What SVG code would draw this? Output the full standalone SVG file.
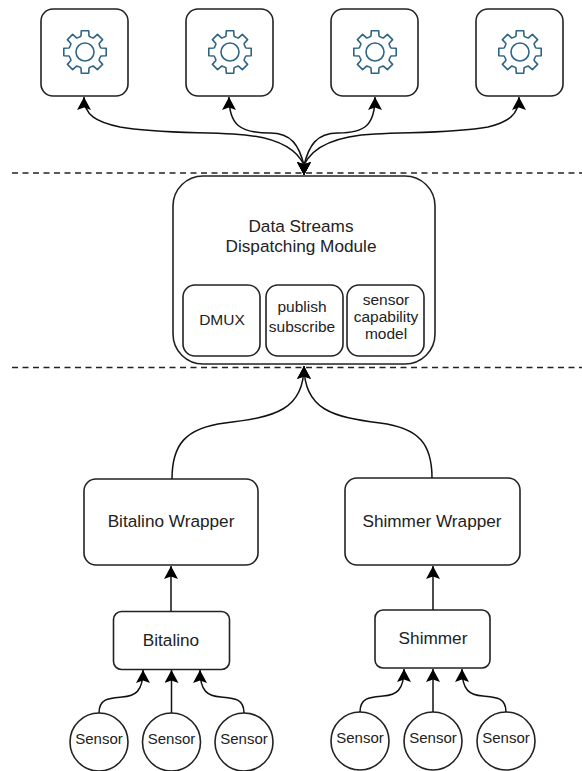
<svg xmlns="http://www.w3.org/2000/svg" xmlns:xlink="http://www.w3.org/1999/xlink" width="582" height="771" viewBox="0 0 582 771">
<style>
.b{fill:#fff;stroke:#222;stroke-width:1.6}
.c{fill:none;stroke:#111;stroke-width:1.5}
.d{fill:none;stroke:#222;stroke-width:1.5;stroke-dasharray:6 4.5}
.g{fill:none;stroke:#2f6485;stroke-width:1.6;stroke-linejoin:round}
text{font-family:"Liberation Sans",Arial,sans-serif;font-size:15.5px;fill:#222;text-anchor:middle}
.l{font-size:17.2px}
.s{font-size:15px}
</style>
<defs>
<marker id="a" markerUnits="userSpaceOnUse" markerWidth="15" markerHeight="15" refX="13" refY="7" orient="auto-start-reverse"><path d="M0 0L13 7L0 14L2.500 7Z" fill="#000"/></marker>
<path id="t" d="M-6.1-14.8Q-4.5-15.4-4-16L-3.7-21.2H3.7L4-16Q4.5-15.4 6.1-14.8"/>
<g id="gear" class="g"><use xlink:href="#t"/><use xlink:href="#t" transform="rotate(45)"/><use xlink:href="#t" transform="rotate(90)"/><use xlink:href="#t" transform="rotate(135)"/><use xlink:href="#t" transform="rotate(180)"/><use xlink:href="#t" transform="rotate(225)"/><use xlink:href="#t" transform="rotate(270)"/><use xlink:href="#t" transform="rotate(315)"/><circle r="9"/></g>
</defs>
<rect width="582" height="771" fill="#fff"/>
<path class="d" d="M12 173H582M12 367.5H582"/>
<g id="n1"><rect class="b" x="41" y="9" width="87" height="87" rx="12"/><use xlink:href="#gear" x="85" y="52"/></g>
<g id="n2"><rect class="b" x="186" y="9" width="87" height="87" rx="12"/><use xlink:href="#gear" x="230" y="52"/></g>
<g id="n3"><rect class="b" x="331" y="9" width="87" height="87" rx="12"/><use xlink:href="#gear" x="375" y="52"/></g>
<g id="n4"><rect class="b" x="476" y="9" width="87" height="87" rx="12"/><use xlink:href="#gear" x="520" y="52"/></g>
<g id="dispatch"><rect class="b" x="173" y="176" width="262" height="188" rx="30"/><text class="l" x="301" y="232">Data Streams</text><text class="l" x="301" y="252">Dispatching Module</text></g>
<g id="dmux"><rect class="b" x="183" y="285" width="77" height="71" rx="12"/><text x="222" y="325">DMUX</text></g>
<g id="pubsub"><rect class="b" x="266" y="285" width="77" height="71" rx="12"/><text x="302" y="312">publish</text><text x="302" y="332">subscribe</text></g>
<g id="capability"><rect class="b" x="347" y="285" width="77" height="71" rx="12"/><text x="386" y="305">sensor</text><text x="386" y="322">capability</text><text x="386" y="339">model</text></g>
<g id="bw"><rect class="b" x="84" y="479" width="174" height="86" rx="12"/><text class="l" x="171" y="527">Bitalino Wrapper</text></g>
<g id="sw"><rect class="b" x="345" y="478" width="175" height="87" rx="12"/><text class="l" x="432" y="527">Shimmer Wrapper</text></g>
<g id="bit"><rect class="b" x="113.500" y="611.500" width="116" height="58" rx="8"/><text class="l" x="171" y="646">Bitalino</text></g>
<g id="shim"><rect class="b" x="375" y="610" width="115" height="58" rx="8"/><text class="l" x="433" y="644">Shimmer</text></g>
<g id="s1"><circle class="b" cx="99" cy="742" r="29"/><text class="s" x="99" y="744">Sensor</text></g>
<g id="s2"><circle class="b" cx="171.500" cy="742" r="29"/><text class="s" x="171.500" y="744">Sensor</text></g>
<g id="s3"><circle class="b" cx="244" cy="742" r="29"/><text class="s" x="244" y="744">Sensor</text></g>
<g id="s4"><circle class="b" cx="360" cy="741" r="29"/><text class="s" x="360" y="743">Sensor</text></g>
<g id="s5"><circle class="b" cx="433" cy="741" r="29"/><text class="s" x="433" y="743">Sensor</text></g>
<g id="s6"><circle class="b" cx="506" cy="741" r="29"/><text class="s" x="506" y="743">Sensor</text></g>
<g id="connectors" class="c">
<path class="c" marker-start="url(#a)" marker-end="url(#a)" d="M304 175V165C296 148 275 136 233 134C190 132 153 133 120 127C96 122 84 115 84 97"/>
<path class="c" marker-start="url(#a)" marker-end="url(#a)" d="M304 175V165C299 146 292 133 270 133C240 133 229 125 229 97"/>
<path class="c" marker-start="url(#a)" marker-end="url(#a)" d="M304 175V165C309 146 316 133 338 133C365 133 375 125 375 97"/>
<path class="c" marker-start="url(#a)" marker-end="url(#a)" d="M304 175V165C312 148 333 136 375 134C418 132 455 133 488 127C508 122 519 115 519 97"/>
<path class="c" marker-end="url(#a)" d="M172 479C172 445 185 428 225 423C275 417 304 410 304 366"/>
<path class="c" marker-end="url(#a)" d="M432 478C432 445 420 428 380 423C333 417 304 410 304 366"/>
<path class="c" marker-end="url(#a)" d="M171 611V566"/>
<path class="c" marker-end="url(#a)" d="M433 610V566"/>
<path class="c" marker-end="url(#a)" d="M99 713C99 698 110 698 122 697C135 696 143 692 143 670"/>
<path class="c" marker-end="url(#a)" d="M171.500 713V670"/>
<path class="c" marker-end="url(#a)" d="M244 713C244 698 233 698 221 697C208 696 200 692 200 670"/>
<path class="c" marker-end="url(#a)" d="M360 712C360 697 371 697 383 696C396 695 404 691 404 669"/>
<path class="c" marker-end="url(#a)" d="M433 712V669"/>
<path class="c" marker-end="url(#a)" d="M506 712C506 697 495 697 483 696C470 695 462 691 462 669"/>
</g>
</svg>
